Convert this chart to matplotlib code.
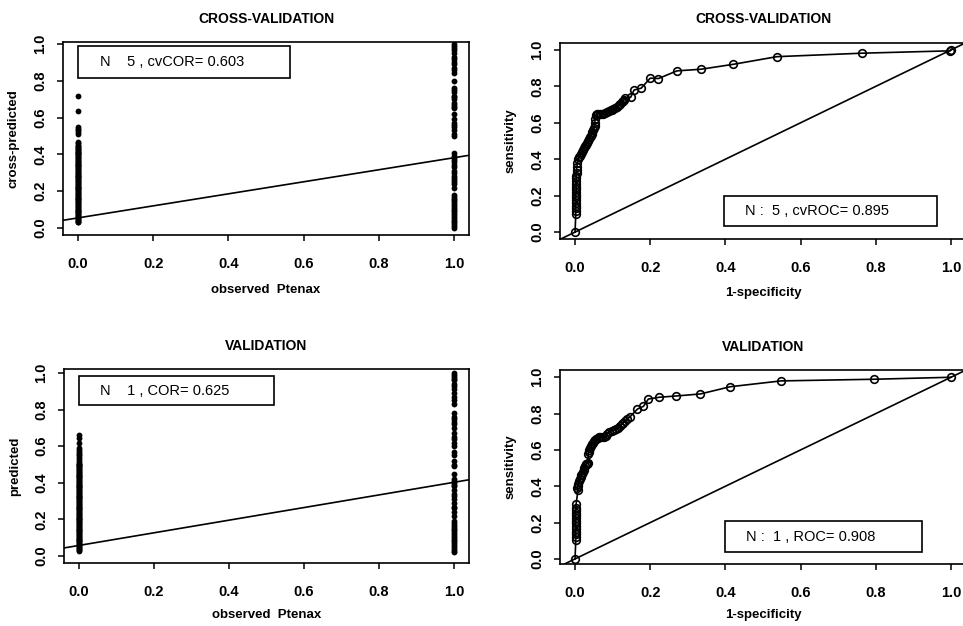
import matplotlib.pyplot as plt
from matplotlib.patches import Rectangle

plt.rcParams['font.family'] = ['Liberation Sans', 'DejaVu Sans']

# --- cross-validation scatter (observed 0/1 vs cross-predicted) ---
cv_pred_obs0 = [0.030, 0.035, 0.04, 0.045, 0.05, 0.055, 0.06, 0.065, 0.07, 0.075, 0.08, 0.085,
                0.09, 0.095, 0.10, 0.105, 0.11, 0.115, 0.12, 0.125, 0.13, 0.135, 0.14, 0.145,
                0.15, 0.155, 0.16, 0.165, 0.17, 0.175, 0.18, 0.185, 0.19, 0.195, 0.20, 0.205,
                0.21, 0.215, 0.22, 0.225, 0.23, 0.235, 0.24, 0.245, 0.25, 0.255, 0.26, 0.265,
                0.27, 0.275, 0.28, 0.285, 0.29, 0.295, 0.30, 0.305, 0.31, 0.315, 0.32, 0.325,
                0.33, 0.335, 0.34, 0.345, 0.35, 0.355, 0.36, 0.365, 0.37, 0.375, 0.38, 0.385,
                0.39, 0.395, 0.40, 0.405, 0.41, 0.415, 0.42, 0.425, 0.43, 0.435, 0.44, 0.445,
                0.45, 0.46, 0.47, 0.51, 0.52, 0.53, 0.54, 0.55, 0.635, 0.72]
cv_pred_obs1 = [0.00, 0.01, 0.02, 0.03, 0.04, 0.05, 0.06, 0.07, 0.08, 0.09, 0.10, 0.11,
                0.12, 0.13, 0.14, 0.15, 0.16, 0.17, 0.18, 0.22, 0.24, 0.25, 0.26, 0.27,
                0.28, 0.30, 0.31, 0.33, 0.34, 0.36, 0.37, 0.38, 0.39, 0.41, 0.50, 0.51,
                0.53, 0.55, 0.56, 0.57, 0.59, 0.62, 0.65, 0.66, 0.67, 0.68, 0.70, 0.71,
                0.72, 0.74, 0.75, 0.76, 0.80, 0.84, 0.86, 0.87, 0.89, 0.90, 0.92, 0.93,
                0.95, 0.97, 0.98, 0.99, 1.00]
cv_fit = (0.055, 0.327)  # intercept, slope

# --- validation scatter ---
val_pred_obs0 = [0.03, 0.035, 0.04, 0.045, 0.05, 0.055, 0.06, 0.065, 0.07, 0.075, 0.08, 0.085,
                 0.09, 0.095, 0.10, 0.105, 0.11, 0.115, 0.12, 0.125, 0.13, 0.135, 0.14, 0.145,
                 0.15, 0.155, 0.16, 0.165, 0.17, 0.175, 0.18, 0.185, 0.19, 0.195, 0.20, 0.205,
                 0.21, 0.215, 0.22, 0.225, 0.23, 0.235, 0.24, 0.245, 0.25, 0.255, 0.26, 0.265,
                 0.27, 0.275, 0.28, 0.285, 0.29, 0.295, 0.30, 0.305, 0.31, 0.315, 0.32, 0.325,
                 0.33, 0.335, 0.34, 0.345, 0.35, 0.355, 0.36, 0.365, 0.37, 0.375, 0.38, 0.385,
                 0.39, 0.395, 0.40, 0.405, 0.41, 0.415, 0.42, 0.425, 0.43, 0.435, 0.44, 0.445,
                 0.45, 0.455, 0.46, 0.465, 0.47, 0.475, 0.48, 0.485, 0.49, 0.495, 0.50, 0.505,
                 0.51, 0.52, 0.53, 0.54, 0.55, 0.56, 0.57, 0.58, 0.59, 0.62, 0.645, 0.66]
val_pred_obs1 = [0.02, 0.03, 0.04, 0.05, 0.06, 0.07, 0.08, 0.09, 0.10, 0.11, 0.12, 0.13,
                 0.14, 0.15, 0.16, 0.17, 0.18, 0.19, 0.22, 0.24, 0.26, 0.27, 0.29, 0.31,
                 0.33, 0.34, 0.36, 0.38, 0.39, 0.40, 0.41, 0.42, 0.45, 0.49, 0.50, 0.52,
                 0.55, 0.57, 0.60, 0.62, 0.64, 0.65, 0.67, 0.70, 0.72, 0.73, 0.75, 0.76,
                 0.78, 0.83, 0.85, 0.87, 0.89, 0.91, 0.93, 0.94, 0.96, 0.97, 0.98, 0.99, 1.00]
val_fit = (0.058, 0.345)

# --- ROC curves ---
cv_fpr = [0.0, 0.002, 0.002, 0.002, 0.002, 0.002, 0.002, 0.002, 0.002, 0.003, 0.003, 0.003,
          0.003, 0.003, 0.003, 0.003, 0.004, 0.004, 0.005, 0.006, 0.008, 0.010, 0.013, 0.016,
          0.018, 0.021, 0.024, 0.027, 0.029, 0.032, 0.035, 0.038, 0.040, 0.042, 0.044, 0.046,
          0.048, 0.050, 0.052, 0.053, 0.053, 0.055, 0.058, 0.062, 0.066, 0.07, 0.075, 0.08,
          0.085, 0.09, 0.095, 0.098, 0.102, 0.106, 0.111, 0.116, 0.12, 0.124, 0.127, 0.13,
          0.133, 0.148, 0.157, 0.176, 0.20, 0.222, 0.271, 0.335, 0.421, 0.537, 0.763, 0.998, 1.0]
cv_tpr = [0.0, 0.10, 0.115, 0.13, 0.145, 0.16, 0.175, 0.19, 0.205, 0.22, 0.235, 0.25,
          0.265, 0.28, 0.295, 0.31, 0.325, 0.34, 0.36, 0.38, 0.40, 0.41, 0.42, 0.43,
          0.44, 0.45, 0.46, 0.47, 0.48, 0.49, 0.50, 0.51, 0.52, 0.53, 0.54, 0.55,
          0.56, 0.57, 0.58, 0.60, 0.62, 0.64, 0.65, 0.65, 0.65, 0.65, 0.65, 0.655,
          0.66, 0.665, 0.67, 0.67, 0.675, 0.68, 0.685, 0.695, 0.705, 0.715, 0.72, 0.725,
          0.735, 0.74, 0.78, 0.79, 0.845, 0.843, 0.885, 0.894, 0.921, 0.963, 0.982, 0.995, 1.0]
val_fpr = [0.0, 0.002, 0.002, 0.002, 0.002, 0.002, 0.002, 0.002, 0.002, 0.002, 0.002, 0.002,
           0.002, 0.002, 0.003, 0.008, 0.006, 0.007, 0.009, 0.011, 0.013, 0.015, 0.017, 0.019,
           0.021, 0.023, 0.025, 0.027, 0.029, 0.031, 0.033, 0.035, 0.035, 0.036, 0.038, 0.040,
           0.042, 0.045, 0.048, 0.051, 0.054, 0.057, 0.06, 0.064, 0.067, 0.072, 0.077, 0.082,
           0.086, 0.091, 0.097, 0.104, 0.11, 0.115, 0.12, 0.124, 0.128, 0.133, 0.138, 0.145,
           0.166, 0.182, 0.195, 0.224, 0.269, 0.333, 0.413, 0.548, 0.794, 1.0]
val_tpr = [0.0, 0.105, 0.12, 0.135, 0.15, 0.165, 0.18, 0.195, 0.21, 0.225, 0.24, 0.255,
           0.27, 0.28, 0.305, 0.38, 0.39, 0.40, 0.415, 0.43, 0.44, 0.45, 0.46, 0.47,
           0.48, 0.49, 0.50, 0.51, 0.52, 0.525, 0.525, 0.53, 0.58, 0.59, 0.60, 0.61,
           0.62, 0.63, 0.64, 0.65, 0.655, 0.66, 0.665, 0.67, 0.67, 0.67, 0.67, 0.675,
           0.685, 0.70, 0.705, 0.71, 0.715, 0.72, 0.73, 0.74, 0.75, 0.76, 0.77, 0.78,
           0.825, 0.84, 0.88, 0.89, 0.897, 0.908, 0.948, 0.98, 0.989, 1.0]

W, H = 963, 626


def px_axes(left, top, width, height):
    return fig.add_axes([left / W, (H - top - height) / H, width / W, height / H])


def style(ax, title, xlabel, ylabel, ylim, ylabel_x, xlabel_y):
    ax.set_xlim(-0.04, 1.04)
    ax.set_ylim(*ylim)
    ticks = [0.0, 0.2, 0.4, 0.6, 0.8, 1.0]
    ax.set_xticks(ticks)
    ax.set_yticks(ticks)
    ax.set_xticklabels([f"{t:.1f}" for t in ticks], fontsize=10.5, fontweight='bold')
    ax.set_yticklabels([f"{t:.1f}" for t in ticks], fontsize=10.5, fontweight='bold',
                       rotation=90, va='center')
    ax.tick_params(direction='out', length=4.5, width=1.1)
    ax.tick_params(axis='x', pad=11)
    ax.tick_params(axis='y', pad=7)
    for s in ax.spines.values():
        s.set_linewidth(1.2)
    ax.text(0.5, 1.12, title, transform=ax.transAxes, ha='center', va='center',
            fontsize=10, fontweight='bold')
    ax.set_xlabel(xlabel, fontsize=9.5, fontweight='bold')
    ax.set_ylabel(ylabel, fontsize=9.5, fontweight='bold')
    ax.xaxis.set_label_coords(0.5, xlabel_y)
    ax.yaxis.set_label_coords(ylabel_x, 0.5)


def legend_box(ax, x0, x1, y0, y1, text, tx):
    ax.add_patch(Rectangle((x0, y0), x1 - x0, y1 - y0, fill=False, lw=1.2, color='black',
                           zorder=5))
    ax.text(tx, (y0 + y1) / 2, text, fontsize=10.5, ha='left', va='center', zorder=6)


fig = plt.figure(figsize=(W / 100, H / 100), dpi=100)

# top-left
ax = px_axes(63, 42, 406, 193)
ax.plot([0] * len(cv_pred_obs0), cv_pred_obs0, 'o', color='black', ms=4.2, mew=0)
ax.plot([1] * len(cv_pred_obs1), cv_pred_obs1, 'o', color='black', ms=4.2, mew=0)
ax.axline((0, cv_fit[0]), slope=cv_fit[1], color='black', lw=1.2)
style(ax, 'CROSS-VALIDATION', 'observed  Ptenax', 'cross-predicted', (-0.038, 1.011),
      -0.106, -0.254)
legend_box(ax, 0.0, 0.563, 0.815, 0.989, 'N    5 , cvCOR= 0.603', 0.059)

# top-right
ax = px_axes(560, 43, 406, 196)
ax.axline((0, 0), slope=1, color='black', lw=1.2)
ax.plot(cv_fpr, cv_tpr, '-o', color='black', lw=1.2, ms=5.5, mfc='none', mew=1.2)
style(ax, 'CROSS-VALIDATION', '1-specificity', 'sensitivity', (-0.038, 1.038),
      -0.106, -0.245)
legend_box(ax, 0.396, 0.963, 0.033, 0.198, 'N :  5 , cvROC= 0.895', 0.452)

# bottom-left
ax = px_axes(64, 369, 405, 194)
ax.plot([0] * len(val_pred_obs0), val_pred_obs0, 'o', color='black', ms=4.2, mew=0)
ax.plot([1] * len(val_pred_obs1), val_pred_obs1, 'o', color='black', ms=4.2, mew=0)
ax.axline((0, val_fit[0]), slope=val_fit[1], color='black', lw=1.2)
style(ax, 'VALIDATION', 'observed  Ptenax', 'predicted', (-0.038, 1.022),
      -0.106, -0.237)
legend_box(ax, 0.0, 0.521, 0.825, 0.984, 'N    1 , COR= 0.625', 0.056)

# bottom-right
ax = px_axes(560, 370, 406, 194)
ax.axline((0, 0), slope=1, color='black', lw=1.2)
ax.plot(val_fpr, val_tpr, '-o', color='black', lw=1.2, ms=5.5, mfc='none', mew=1.2)
style(ax, 'VALIDATION', '1-specificity', 'sensitivity', (-0.028, 1.04),
      -0.106, -0.232)
legend_box(ax, 0.399, 0.923, 0.039, 0.206, 'N :  1 , ROC= 0.908', 0.455)

fig.savefig('out.png', dpi=100)
